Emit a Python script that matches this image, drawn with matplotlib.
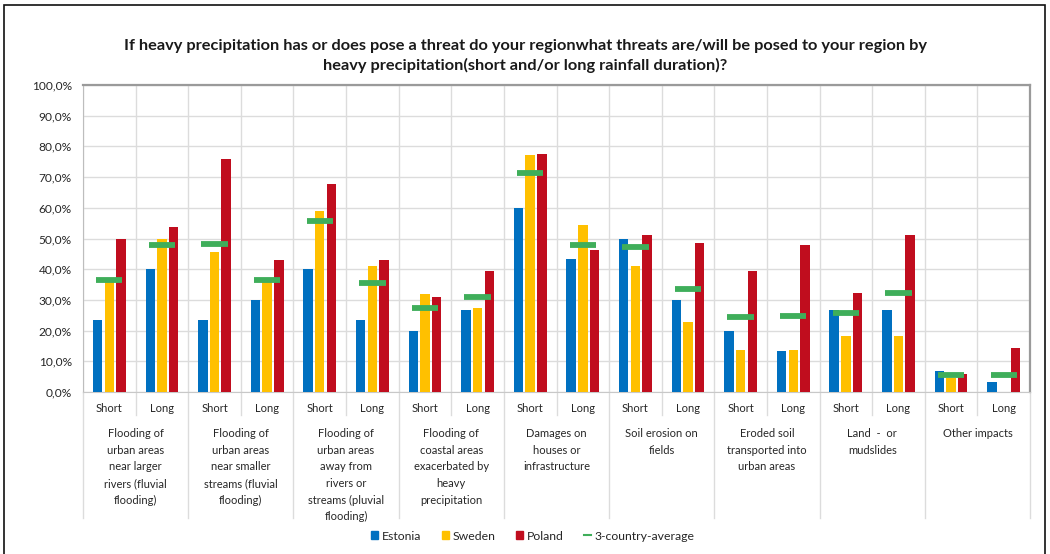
import matplotlib
matplotlib.use('Agg')
import matplotlib.pyplot as plt
from matplotlib.patches import Patch, Rectangle
from matplotlib.lines import Line2D
from matplotlib.ticker import FuncFormatter
import numpy as np

plt.rcParams['font.family'] = ['Lato', 'DejaVu Sans']

title = ('If heavy precipitation has or does pose a threat do your regionwhat threats are/will be posed to your region by\n'
         'heavy precipitation(short and/or long rainfall duration)?')

groups = [
    'Flooding of\nurban areas\nnear larger\nrivers (fluvial\nflooding)',
    'Flooding of\nurban areas\nnear smaller\nstreams (fluvial\nflooding)',
    'Flooding of\nurban areas\naway from\nrivers or\nstreams (pluvial\nflooding)',
    'Flooding of\ncoastal areas\nexacerbated by\nheavy\nprecipitation',
    'Damages on\nhouses or\ninfrastructure',
    'Soil erosion on\nfields',
    'Eroded soil\ntransported into\nurban areas',
    'Land  -  or\nmudslides',
    'Other impacts',
]
durations = ['Short', 'Long']

# values in %, order: group1 short, group1 long, group2 short, ...
estonia = [23.3, 40.0, 23.3, 30.0, 40.0, 23.3, 20.0, 26.7, 60.0, 43.3,
           50.0, 30.0, 20.0, 13.3, 26.7, 26.7, 6.7, 3.3]
sweden = [36.0, 50.0, 45.5, 36.4, 59.1, 40.9, 31.8, 27.3, 77.3, 54.5,
          40.9, 22.7, 13.6, 13.6, 18.2, 18.2, 4.5, 0.0]
poland = [50.0, 53.6, 76.0, 42.9, 67.9, 42.9, 30.8, 39.3, 77.4, 46.4,
          51.0, 48.6, 39.3, 47.8, 32.1, 51.0, 6.0, 14.3]
average = [36.4, 47.8, 48.2, 36.4, 55.6, 35.5, 27.4, 30.8, 71.4, 47.9,
           47.2, 33.6, 24.3, 24.6, 25.7, 32.1, 5.6, 5.6]

c_est = '#0070c0'
c_swe = '#ffc000'
c_pol = '#c00d1e'
c_avg = '#3fae5a'
grid_c = '#dcdcdc'
txt_c = '#262626'

fig = plt.figure(figsize=(10.5, 5.54), dpi=100)
ax = fig.add_axes([83 / 1050, 1 - 392 / 554, (1030 - 83) / 1050, (392 - 85) / 554])

n = len(estonia)
x = np.arange(n)
w = 0.18
step = 0.222
ax.bar(x - step, estonia, w, color=c_est, zorder=3)
ax.bar(x, sweden, w, color=c_swe, zorder=3)
ax.bar(x + step, poland, w, color=c_pol, zorder=3)
ax.hlines(average, x - 0.25, x + 0.25, color=c_avg, lw=4.2, zorder=4)

ax.set_xlim(-0.5, n - 0.5)
ax.set_ylim(0, 100)
ax.set_yticks(np.arange(0, 101, 10))
ax.yaxis.set_major_formatter(FuncFormatter(lambda v, p: f'{v:.1f}%'.replace('.', ',')))
ax.tick_params(axis='y', length=0, labelsize=8.6, pad=8, colors=txt_c)
ax.set_xticks([])
ax.set_xticks(np.arange(n + 1) - 0.5, minor=True)
ax.tick_params(axis='x', which='minor', length=0)
ax.grid(axis='y', color=grid_c, lw=1.0, zorder=0)
ax.grid(axis='x', which='minor', color=grid_c, lw=1.0, zorder=0)

for side in ['top', 'right']:
    ax.spines[side].set_color('#9a9a9a')
    ax.spines[side].set_linewidth(1.6)
ax.spines['left'].set_color('#bdbdbd')
ax.spines['bottom'].set_color('#c8c8c8')

# category axis labels below the plot
tr = ax.get_xaxis_transform()
for i in range(n):
    ax.text(i, -0.055, durations[i % 2], transform=tr, ha='center', va='center',
            fontsize=8, color=txt_c)
for g, label in enumerate(groups):
    ax.text(2 * g + 0.5, -0.118, label, transform=tr, ha='center', va='top',
            fontsize=8, color=txt_c, linespacing=1.62)
for b in range(n + 1):
    bottom = -0.41 if b % 2 == 0 else -0.075
    ax.plot([b - 0.5, b - 0.5], [0, bottom], transform=tr, color=grid_c,
            lw=1.0, clip_on=False)

fig.text(0.5, 1 - 56 / 554, title, ha='center', va='center', fontsize=11.8,
         fontweight='bold', color='#1a1a1a', linespacing=1.4)

handles = [
    Patch(color=c_est, label='Estonia'),
    Patch(color=c_swe, label='Sweden'),
    Patch(color=c_pol, label='Poland'),
    Line2D([], [], color=c_avg, lw=1.5, label='3-country-average'),
]
fig.legend(handles=handles, loc='center', bbox_to_anchor=(533 / 1050, 1 - 536 / 554),
           ncol=4, frameon=False, fontsize=8.8, handlelength=0.55, handleheight=0.55,
           handletextpad=0.3, columnspacing=1.7, labelcolor=txt_c)

fig.add_artist(Rectangle((4 / 1050, -0.1), (1045 - 4) / 1050, 1.1 - 5 / 554,
                         transform=fig.transFigure, fill=False, ec='#111111', lw=1.2))

fig.savefig('out.png', dpi=100)
